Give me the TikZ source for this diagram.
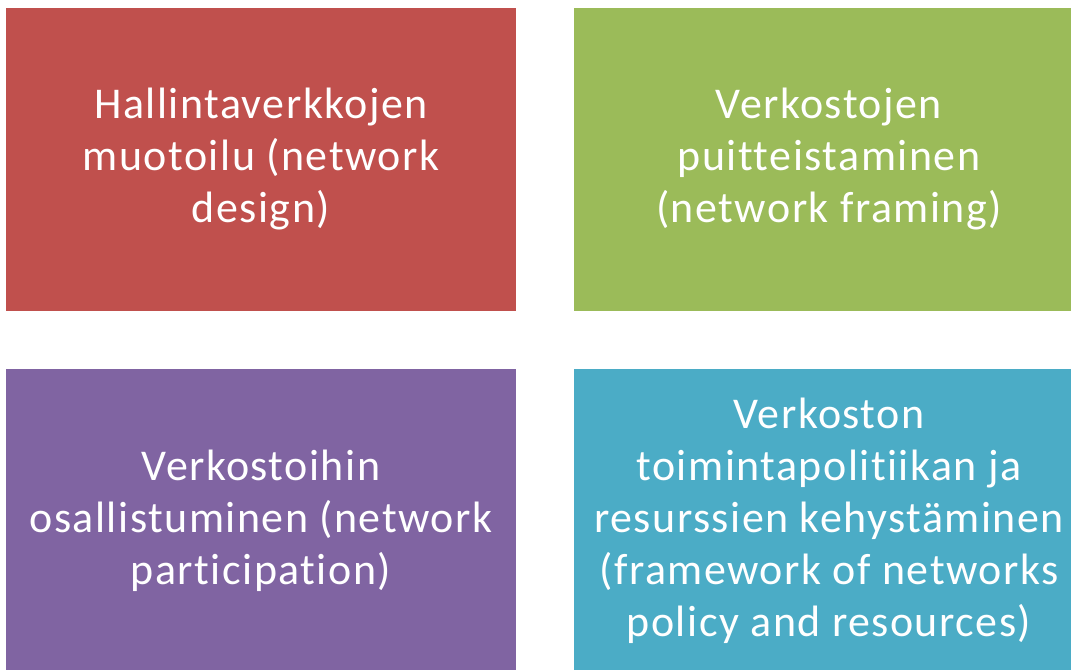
\documentclass[tikz,border=0pt]{standalone}
\usepackage{fontspec}
\setmainfont[Ligatures=NoCommon, LetterSpace=3.4]{Carlito}
\usepackage{tikz}
\usetikzlibrary{positioning}
\definecolor{ColorRed}{HTML}{C0504D}
\definecolor{ColorGreen}{HTML}{9BBB59}
\definecolor{ColorPurple}{HTML}{8064A2}
\definecolor{ColorTeal}{HTML}{4BACC6}

\begin{document}
\begin{tikzpicture}[
box/.style={
	rectangle,
	fill=black!30,
	minimum width=10.2cm,
	minimum height=6.06cm,
	align=center,
	inner sep=0mm,
	font=\fontsize{25}{29.6}\selectfont,
	text = white}]

\useasboundingbox (0,0) rectangle (21.42,-13.4);
\clip (0,0) rectangle (21.42,-13.4);

%Top row
\node[box, fill = ColorRed] (design) at (5.22,-3.19)
	{Hallintaverkkojen\\muotoilu (network\\design)};
\node[box, fill = ColorGreen] (framing) at (16.58,-3.19)
	{Verkostojen\\puitteistaminen\\(network framing)};

%Bottom row
\node[box, fill = ColorPurple] (participation) at (5.22,-10.41)
	{Verkostoihin\\osallistuminen (network\\participation)};
\node[box, fill = ColorTeal] (policy) at (16.58,-10.41)
	{Verkoston\\toimintapolitiikan ja\\resurssien kehystäminen\\(framework of networks\\policy and resources)};

\end{tikzpicture}
\end{document}
